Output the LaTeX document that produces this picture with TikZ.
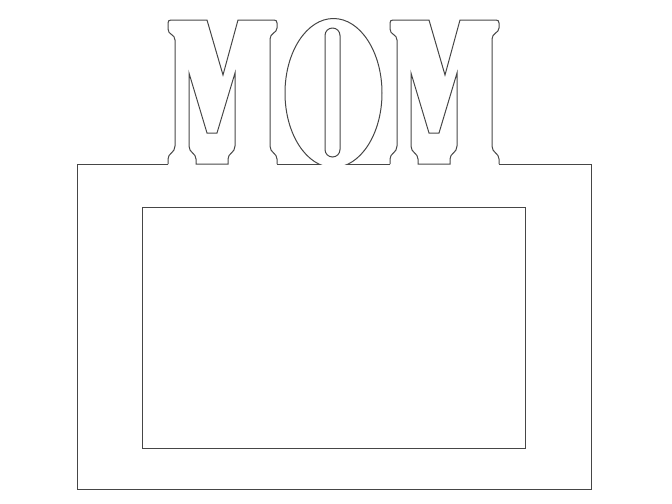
\documentclass[tikz,border=0pt]{standalone}
\usepackage{tikz}

\tikzset{every picture/.style={line width=0.75pt}}

\begin{document}
\begin{tikzpicture}[x=0.75pt,y=0.75pt,yscale=-1,xscale=1]
%set diagram left start at 0, and has height of 504
\useasboundingbox (0,0) rectangle (672,504);

%Shape: Frame outer
\draw [color={rgb, 255:red, 70; green, 70; blue, 70 }  ]   (168,164) -- (77,164) -- (77,489) -- (591,489) -- (591,164) -- (499,164) ;
%Straight Lines
\draw [color={rgb, 255:red, 70; green, 70; blue, 70 }  ]   (277,164) -- (318.8,164) ;
%Straight Lines
\draw [color={rgb, 255:red, 70; green, 70; blue, 70 }  ]   (348.2,164) -- (390,164) ;
%Shape: Rectangle (photo window)
\draw [color={rgb, 255:red, 70; green, 70; blue, 70 }  ]   (142,207) -- (525,207) -- (525,448) -- (142,448) -- cycle ;

%Shape: Letter M (left)
\draw [color={rgb, 255:red, 70; green, 70; blue, 70 }  ]   (168,164) -- (168,159) .. controls (168,153) and (175,153) .. (175,146) -- (175,40) .. controls (175,34) and (168,35) .. (168,29) -- (168,23) .. controls (168,21) and (169,20) .. (171,20) -- (207,20) -- (223,75) -- (238,20) -- (274,20) .. controls (276,20) and (277,21) .. (277,23) -- (277,28) .. controls (277,33) and (270,33) .. (270,39) -- (270,146) .. controls (270,153) and (277,153) .. (277,159) -- (277,164) ;
%Shape: Letter M (left) counter
\draw [color={rgb, 255:red, 70; green, 70; blue, 70 }  ]   (196,164) -- (196,159) .. controls (196,153) and (189,153) .. (189,146) -- (189,73) -- (207,133) -- (217,133) -- (235,73) -- (235,146) .. controls (235,153) and (228,153) .. (228,159) -- (228,164) -- cycle ;

%Shape: Letter O
\begin{scope}
\clip (0,0) rectangle (672,164) ;
\draw [color={rgb, 255:red, 70; green, 70; blue, 70 }  ]   (333.5,93) ellipse [x radius=48.5, y radius=74.5] ;
\end{scope}
%Shape: Letter O counter
\draw [color={rgb, 255:red, 70; green, 70; blue, 70 }  ][rounded corners=5.6pt]   (325,28) rectangle (340,157) ;

%Shape: Letter M (right)
\draw [color={rgb, 255:red, 70; green, 70; blue, 70 }  ]   (390,164) -- (390,159) .. controls (390,153) and (397,153) .. (397,146) -- (397,40) .. controls (397,34) and (390,35) .. (390,29) -- (390,23) .. controls (390,21) and (391,20) .. (393,20) -- (429,20) -- (445,75) -- (460,20) -- (496,20) .. controls (498,20) and (499,21) .. (499,23) -- (499,28) .. controls (499,33) and (492,33) .. (492,39) -- (492,146) .. controls (492,153) and (499,153) .. (499,159) -- (499,164) ;
%Shape: Letter M (right) counter
\draw [color={rgb, 255:red, 70; green, 70; blue, 70 }  ]   (418,164) -- (418,159) .. controls (418,153) and (411,153) .. (411,146) -- (411,73) -- (429,133) -- (439,133) -- (457,73) -- (457,146) .. controls (457,153) and (450,153) .. (450,159) -- (450,164) -- cycle ;

\end{tikzpicture}
\end{document}
